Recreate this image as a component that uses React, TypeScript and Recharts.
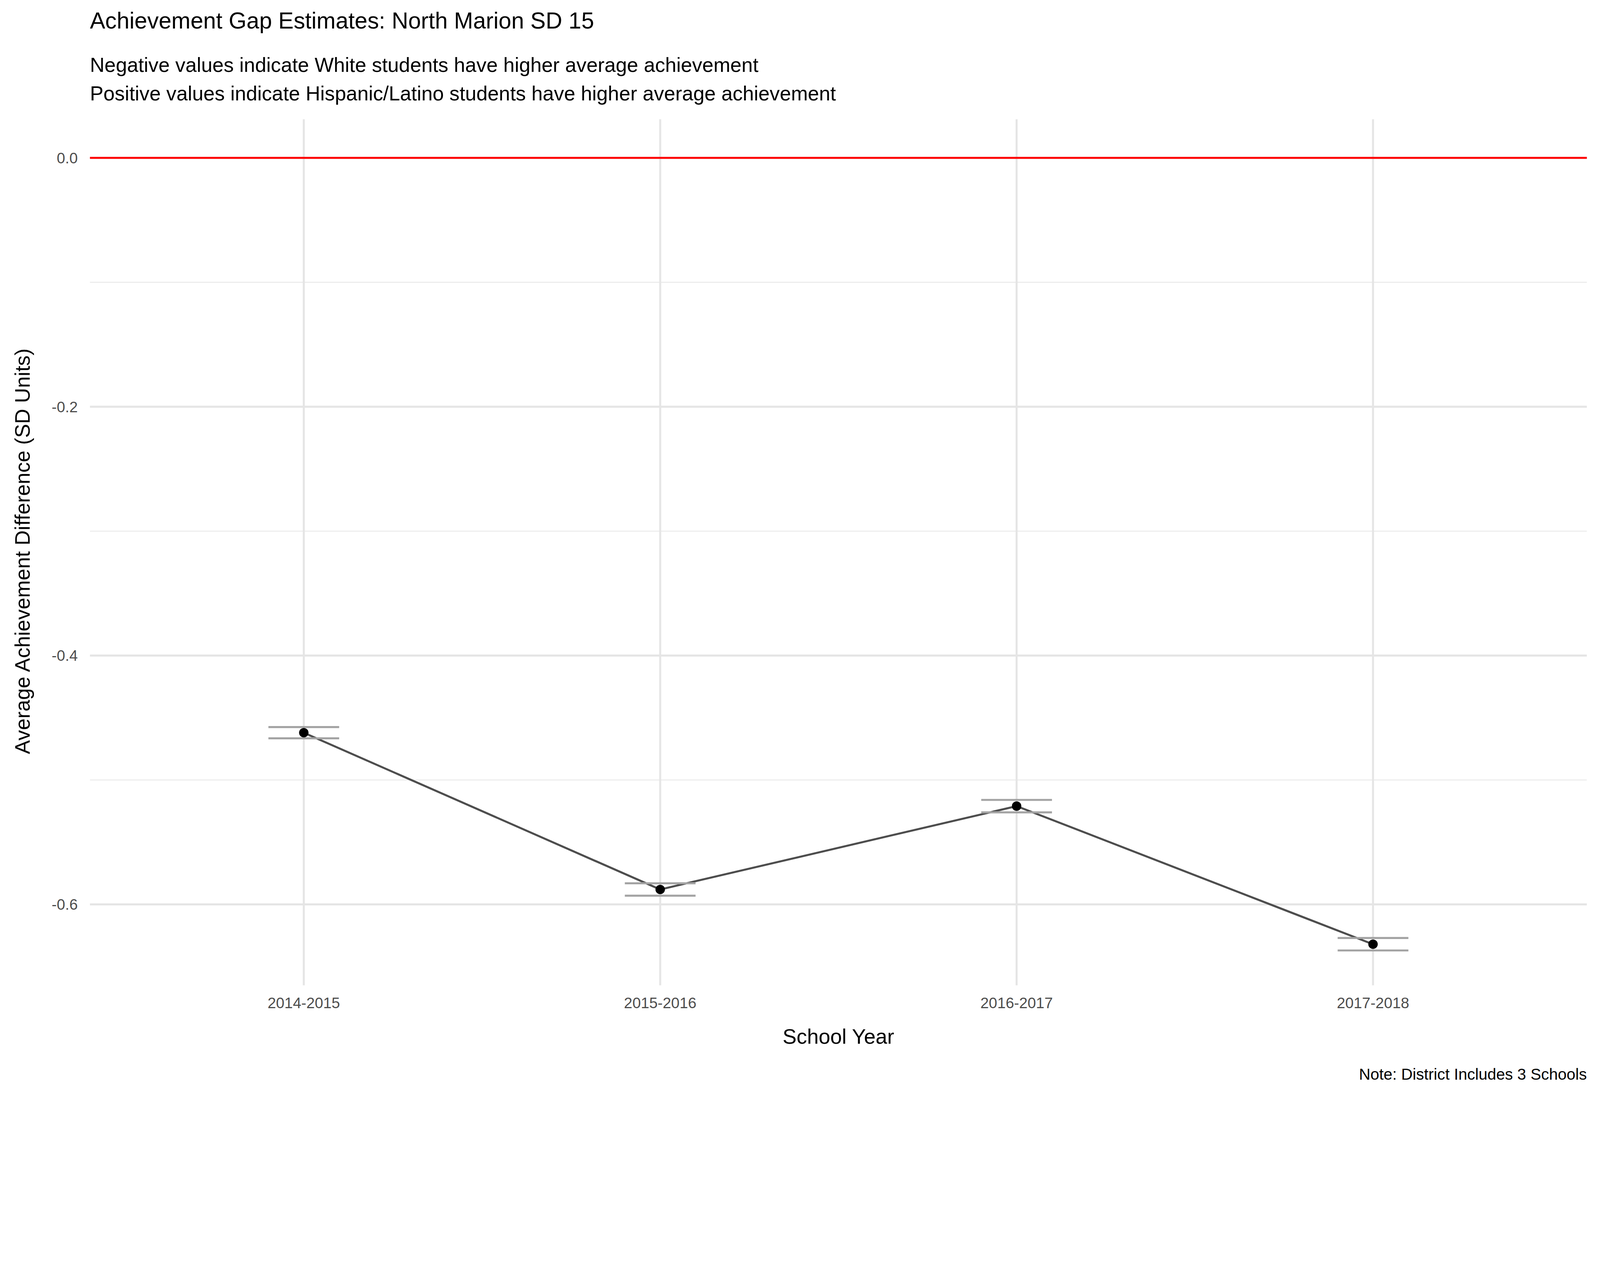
import { ComposedChart, Line, Scatter, XAxis, YAxis, ReferenceLine } from "recharts";

const years = ["2014-2015", "2015-2016", "2016-2017", "2017-2018"];
const gapEstimates = [-0.462, -0.588, -0.521, -0.632];
const upperBounds = [-0.4575, -0.583, -0.516, -0.627];
const lowerBounds = [-0.4665, -0.593, -0.526, -0.637];
const yTicks = [-0.6, -0.4, -0.2, 0];
const yMinorTicks = [-0.5, -0.3, -0.1];

const rows = years.map((year, i) => ({
  x: i + 1,
  year,
  gap: gapEstimates[i],
  upper: upperBounds[i],
  lower: lowerBounds[i],
}));

const W = 4750;
const H = 3250;
const font = "'Liberation Sans', Arial, sans-serif";

const Whisker = (props: any) => {
  const { cx, cy } = props;
  if (cx == null || cy == null) return null;
  return <line x1={cx - 105} x2={cx + 105} y1={cy} y2={cy} stroke="#a3a3a3" strokeWidth={6} />;
};

export default function App() {
  // fit the fixed 4750x3250 layout into whatever the window really is
  const vw = typeof window !== "undefined" ? window.innerWidth : W;
  const vh = typeof window !== "undefined" ? window.innerHeight : H;
  const scale = Math.min(1, vw / W, vh / H);

  return (
    <div
      style={{
        position: "absolute",
        left: 0,
        top: 0,
        width: W,
        height: H,
        background: "#fff",
        fontFamily: font,
        transform: `scale(${scale})`,
        transformOrigin: "0 0",
        overflow: "hidden",
      }}
    >
      <ComposedChart
        width={W}
        height={H}
        data={rows}
        margin={{ top: 354, right: 39, left: 67, bottom: 226 }}
      >
        {yMinorTicks.map((v) => (
          <ReferenceLine key={"m" + v} y={v} stroke="#ebebeb" strokeWidth={3} />
        ))}
        {yTicks.map((v) => (
          <ReferenceLine key={"M" + v} y={v} stroke="#e5e5e5" strokeWidth={6} />
        ))}
        {rows.map((r) => (
          <ReferenceLine key={"v" + r.x} x={r.x} stroke="#e5e5e5" strokeWidth={6} />
        ))}
        <ReferenceLine y={0} stroke="#ff0000" strokeWidth={6} />
        <XAxis
          type="number"
          dataKey="x"
          domain={[0.4, 4.6]}
          ticks={[1, 2, 3, 4]}
          tickFormatter={(v) => years[v - 1] ?? ""}
          axisLine={false}
          tickLine={false}
          height={100}
          tickMargin={30}
          tick={{ fontSize: 45, fill: "#4d4d4d", fontFamily: font }}
        />
        <YAxis
          type="number"
          domain={[-0.665, 0.031]}
          ticks={yTicks}
          tickFormatter={(v) => v.toFixed(1)}
          axisLine={false}
          tickLine={false}
          width={200}
          tickMargin={30}
          allowDataOverflow
          tick={{ fontSize: 45, fill: "#4d4d4d", fontFamily: font }}
        />
        <Scatter dataKey="upper" shape={Whisker} isAnimationActive={false} />
        <Scatter dataKey="lower" shape={Whisker} isAnimationActive={false} />
        <Line
          dataKey="gap"
          stroke="#4d4d4d"
          strokeWidth={6}
          dot={{ r: 14, fill: "#000", stroke: "none" }}
          isAnimationActive={false}
        />
      </ComposedChart>
      <div style={{ position: "absolute", left: 267, top: 22, fontSize: 68, color: "#000", whiteSpace: "nowrap" }}>
        Achievement Gap Estimates: North Marion SD 15
      </div>
      <div style={{ position: "absolute", left: 267, top: 150, fontSize: 60, lineHeight: "85px", color: "#000", whiteSpace: "nowrap" }}>
        Negative values indicate White students have higher average achievement
        <br />
        Positive values indicate Hispanic/Latino students have higher average achievement
      </div>
      <div style={{ position: "absolute", left: 267, width: 4444, top: 3040, textAlign: "center", fontSize: 62, color: "#000" }}>
        School Year
      </div>
      <div style={{ position: "absolute", right: 39, top: 3160, fontSize: 47, color: "#000", whiteSpace: "nowrap" }}>
        Note: District Includes 3 Schools
      </div>
      <div
        style={{
          position: "absolute",
          left: 67,
          top: 1636,
          transform: "translate(-50%, -50%) rotate(-90deg)",
          fontSize: 62,
          color: "#000",
          whiteSpace: "nowrap",
        }}
      >
        Average Achievement Difference (SD Units)
      </div>
    </div>
  );
}
